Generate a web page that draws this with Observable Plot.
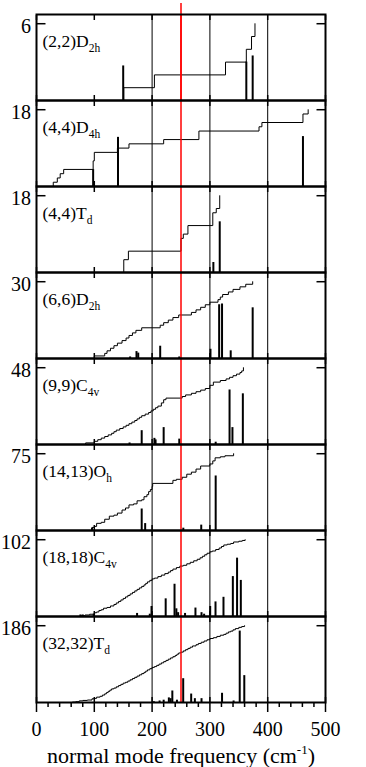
<!DOCTYPE html>
<html><head><meta charset="utf-8">
<script src="https://cdn.jsdelivr.net/npm/d3@7"></script>
<script src="https://cdn.jsdelivr.net/npm/@observablehq/plot@0.6"></script>
<style>html,body{margin:0;padding:0;background:#fff}#chart svg{display:block}</style>
</head><body><div id="chart"></div>
<script>
// ---- panel labels and totals ----
const panelBase = ["(2,2)D", "(4,4)D", "(4,4)T", "(6,6)D", "(9,9)C", "(14,13)O", "(18,18)C", "(32,32)T"];
const panelSub = ["2h", "4h", "d", "2h", "4v", "h", "4v", "d"];
const panelTotals = [6, 18, 18, 30, 48, 75, 102, 186];

// ---- normal modes: [frequency cm-1, degeneracy] ----
const modes_2_2 = [[151,1],[204,1],[327,1],[363,1],[372,1],[378,1]];
const modes_4_4_D4h = [[29,1],[36,1],[41,1],[47,1],[98,2],[100,2],[140,1],[160,1],[220,1],[281,2],[385,1],[390,1],[461,2],[470,1]];
const modes_4_4_Td = [[151,3],[159,2],[250,3],[254,1],[262,2],[305,3],[311,1],[317,3]];
const modes_6_6 = [[100,1],[118,1],[122,1],[128,1],[134,1],[140,1],[148,1],[155,1],[160,1],[166,1],[172,1],[182,1],[214,1],[220,1],[228,1],[236,1],[246,1],[268,1],[276,1],[284,1],[292,1],[300,1],[314,1],[318,1],[322,1],[332,1],[340,1],[352,1],[362,1],[374,1]];
const modes_9_9 = [[85,1],[100,1],[106,1],[112,1],[118,1],[124,1],[130,1],[134,1],[138,1],[144,1],[150,1],[155,1],[160,1],[165,1],[170,1],[174,1],[178,1],[182,1],[188,1],[194,1],[198,1],[202,1],[206,1],[210,1],[216,2],[220,2],[224,1],[252,1],[258,1],[268,1],[276,1],[284,1],[292,1],[300,2],[306,2],[318,1],[328,1],[334,1],[340,1],[346,1],[352,1],[355,1],[358,2]];
const modes_14_13 = [[96,3],[100,1],[104,3],[112,1],[118,3],[126,3],[134,1],[140,2],[148,3],[154,2],[160,3],[168,1],[174,3],[182,1],[186,3],[191,2],[194,3],[197,2],[200,3],[201,3],[236,3],[242,1],[252,2],[260,3],[268,2],[276,3],[284,3],[300,2],[305,3],[309,3],[318,1],[326,1],[341,2]];
const modes_18_18 = [[76,1],[84,1],[92,1],[100,2],[104,1],[108,2],[112,1],[116,2],[122,1],[128,2],[134,2],[138,2],[142,2],[146,2],[150,2],[154,2],[158,2],[162,2],[166,2],[170,2],[174,2],[178,2],[182,2],[186,2],[189,2],[192,2],[196,2],[200,2],[204,1],[210,2],[216,2],[222,2],[228,2],[232,2],[236,2],[242,2],[248,2],[254,1],[260,2],[266,2],[272,2],[278,2],[283,2],[287,2],[291,2],[295,2],[300,2],[304,1],[310,2],[316,2],[320,2],[324,2],[330,1],[336,1],[341,2],[350,1],[356,1],[361,1]];
const modes_32_32 = [[62,1],[68,1],[74,2],[80,1],[88,1],[96,3],[100,1],[104,3],[110,2],[114,3],[118,3],[121,3],[124,3],[127,3],[130,3],[134,2],[138,3],[142,3],[146,3],[150,3],[154,2],[158,3],[162,3],[166,3],[170,3],[174,3],[178,3],[182,3],[186,3],[189,3],[192,3],[196,3],[200,3],[204,2],[208,3],[212,3],[216,3],[220,3],[224,3],[228,3],[232,3],[236,3],[240,3],[243,3],[246,3],[250,2],[254,3],[258,3],[262,3],[266,3],[270,3],[276,3],[280,3],[285,3],[290,3],[295,3],[300,3],[306,2],[312,3],[318,3],[324,2],[328,3],[332,3],[336,2],[340,3],[344,3],[350,3],[355,2],[360,2]];

// ---- IR intensities: [frequency cm-1, relative intensity (1 = panel top tick)] ----
const ir_2_2 = [[150,0.45],[363,0.50],[374,0.58]];
const ir_4_4_D4h = [[98,0.22],[141,0.64],[461,0.65]];
const ir_4_4_Td = [[306,0.13],[317,0.66]];
const ir_6_6 = [[162,0.02],[173,0.09],[176,0.07],[214,0.16],[247,0.02],[301,0.12],[316,0.70],[321,0.71],[336,0.10],[374,0.66]];
const ir_9_9 = [[161,0.02],[182,0.18],[204,0.08],[206,0.06],[220,0.22],[247,0.07],[310,0.03],[334,0.71],[339,0.22],[357,0.66]];
const ir_14_13 = [[96,0.03],[182,0.28],[188,0.09],[254,0.03],[285,0.07],[310,0.71]];
const ir_18_18 = [[76,0.02],[80,0.02],[99,0.03],[174,0.04],[196,0.03],[199,0.13],[223.5,0.23],[238.8,0.42],[242,0.10],[245,0.05],[257,0.04],[275,0.11],[285.5,0.05],[290,0.03],[300.5,0.13],[309.7,0.19],[323.5,0.25],[339.7,0.52],[347,0.76],[353.5,0.47]];
const ir_32_32 = [[203,0.01],[213,0.02],[220,0.03],[229,0.06],[232,0.05],[235,0.15],[243,0.03],[253.8,0.31],[267.6,0.11],[274,0.05],[285.5,0.05],[321,0.12],[341,0.02],[351.6,0.93],[359.5,0.35]];

// ---- axis ticks and reference lines ----
const xTicks = [0, 100, 200, 300, 400, 500];
const xMinorTicks = [20,40,60,80,120,140,160,180,220,240,260,280,320,340,360,380,420,440,460,480];
const refLines = [200, 300, 400];
const markerFreq = [250];
const axisTitle = "normal mode frequency (cm-1)";

const modesList = [modes_2_2, modes_4_4_D4h, modes_4_4_Td, modes_6_6, modes_9_9, modes_14_13, modes_18_18, modes_32_32];
const irList = [ir_2_2, ir_4_4_D4h, ir_4_4_Td, ir_6_6, ir_9_9, ir_14_13, ir_18_18, ir_32_32];

const panels = panelBase.map((b, i) => ({key: b + panelSub[i], base: b, sub: panelSub[i], total: panelTotals[i]}));
const steps = [], bars = [];
panels.forEach((p, i) => {
  let c = 0;
  steps.push({panel: p.key, x: modesList[i][0][0], y: 0});
  for (const [f, g] of modesList[i]) { c += g; steps.push({panel: p.key, x: f, y: c / p.total}); }
  for (const [f, v] of irList[i]) bars.push({panel: p.key, x: f, y: v});
});

const serif = "'Liberation Serif','Times New Roman',Times,serif";
const plot = Plot.plot({
  width: 366, height: 767,
  marginLeft: 36, marginRight: 41, marginTop: 11, marginBottom: 63,
  style: {fontFamily: serif, fontSize: "20px", background: "#fff", color: "#000"},
  x: {domain: [0, 500], axis: null},
  y: {domain: [0, 1.12], axis: null},
  fy: {domain: panels.map(d => d.key), padding: 0, axis: null},
  marks: [
    Plot.ruleX(refLines, {stroke: "#000", strokeWidth: 1}),
    Plot.ruleX(bars, {x: "x", y1: 0, y2: "y", fy: "panel", stroke: "#000", strokeWidth: 2}),
    Plot.line(steps, {x: "x", y: "y", fy: "panel", z: "panel", curve: "step-after", stroke: "#000", strokeWidth: 1}),
    Plot.ruleX(markerFreq, {stroke: "#ff0000", strokeWidth: 1.5}),
    Plot.ruleX([{panel: panels[0].key, x: markerFreq[0]}], {x: "x", fy: "panel", stroke: "#ff0000", strokeWidth: 1.5, insetTop: -11}),
    Plot.frame({stroke: "#000", strokeWidth: 2}),
    Plot.axisY([1], {anchor: "left", tickSize: -9.5, fill: "none", strokeWidth: 1.5, facetAnchor: null, label: null}),
    Plot.axisY([1], {anchor: "right", tickSize: -9.5, fill: "none", strokeWidth: 1.5, facetAnchor: null, label: null}),
    Plot.axisX(xTicks, {anchor: "top", tickSize: -5, fill: "none", strokeWidth: 1.5, facetAnchor: null, label: null}),
    Plot.axisX(xTicks, {anchor: "bottom", tickSize: -5, fill: "none", strokeWidth: 1.5, facetAnchor: null, label: null}),
    Plot.axisX(xMinorTicks, {anchor: "bottom", tickSize: 5, fill: "none", strokeWidth: 1.5, label: null}),
    Plot.axisX(xTicks, {anchor: "bottom", tickSize: 10, tickPadding: 9, strokeWidth: 1.5, fontSize: 20, label: axisTitle, labelAnchor: "center", labelArrow: "none"}),
    Plot.text(panels, {fy: "key", y: d => d.total / d.total, text: d => String(d.total), frameAnchor: "left", textAnchor: "end", dx: -5.5, dy: 2.5, fontSize: 20}),
    Plot.text(panels, {fy: "key", text: "key", frameAnchor: "top-left", textAnchor: "start", lineAnchor: "bottom", dx: 6, dy: 32, fontSize: 17.5})
  ]
});
document.getElementById("chart").appendChild(plot);

const root = d3.select(plot);
const tickStrings = xTicks.map(String);

// serif fonts on axis text, subscripts in panel labels, superscript in axis title
root.selectAll("text").each(function () {
  const t = this.textContent;
  const p = panels.find(q => q.key === t);
  const sel = d3.select(this);
  if (p) {
    sel.text(null);
    sel.append("tspan").text(p.base);
    sel.append("tspan").attr("font-size", 11.5).attr("dy", 5).text(p.sub);
  } else if (t === axisTitle) {
    sel.attr("font-size", 22).attr("font-family", serif).style("font-size", "22px").style("font-family", serif);
    sel.text(null);
    sel.append("tspan").text("normal mode frequency (cm");
    sel.append("tspan").attr("font-size", 13).attr("dy", -9).text("-1");
    sel.append("tspan").attr("dy", 9).text(")");
  } else if (tickStrings.includes(t)) {
    sel.attr("font-size", 20).attr("font-family", serif).style("font-size", "20px").style("font-family", serif).style("font-variant", "normal");
  }
});
</script>
</body></html>
